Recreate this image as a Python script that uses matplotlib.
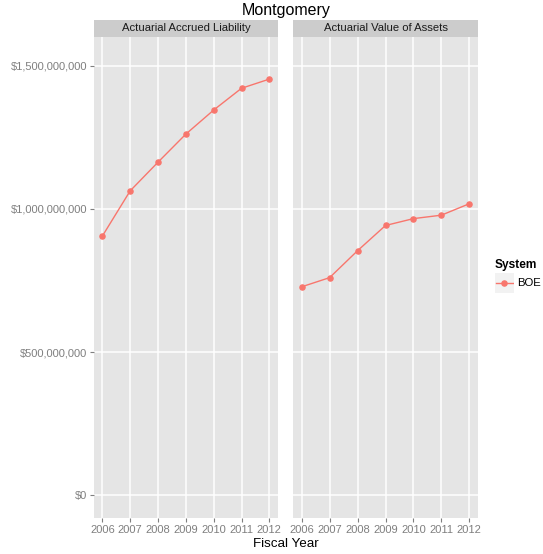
import matplotlib
matplotlib.use("Agg")
import matplotlib.pyplot as plt
from matplotlib.ticker import FuncFormatter
from matplotlib.lines import Line2D

plt.rcParams['font.family'] = ['Liberation Sans', 'DejaVu Sans']

# data
years = [2006, 2007, 2008, 2009, 2010, 2011, 2012]
liability = [905e6, 1063e6, 1163e6, 1261e6, 1345e6, 1421e6, 1453e6]
assets = [728e6, 760e6, 854e6, 942e6, 966e6, 978e6, 1018e6]
panel_titles = ['Actuarial Accrued Liability', 'Actuarial Value of Assets']
series_name = 'BOE'

line_color = '#F8766D'
W, H = 543, 554

fig = plt.figure(figsize=(W / 100, H / 100), dpi=100)

def box(x0, y0, x1, y1):
    # pixel box -> figure fraction
    return [x0 / W, 1 - y1 / H, (x1 - x0) / W, (y1 - y0) / H]

money = FuncFormatter(lambda v, p: '${:,.0f}'.format(v))

panels = [(94, 277.7, liability), (293.3, 477.7, assets)]
for i, (x0, x1, vals) in enumerate(panels):
    ax = fig.add_axes(box(x0, 36.7, x1, 517.7))
    ax.set_facecolor('#E5E5E5')
    for s in ax.spines.values():
        s.set_visible(False)
    ax.grid(True, color='white', linewidth=1.1)
    ax.set_axisbelow(True)
    ax.plot(years, vals, color=line_color, linewidth=1.0, marker='o', markersize=3.7)
    ax.set_xlim(2005.7, 2012.3)
    ax.set_ylim(-78e6, 1601e6)
    ax.set_xticks(years)
    ax.set_yticks([0, 500e6, 1000e6, 1500e6])
    ax.tick_params(colors='#7F7F7F', labelcolor='#7F7F7F', labelsize=8,
                   length=3, width=0.8, pad=2)
    if i == 0:
        ax.yaxis.set_major_formatter(money)
    else:
        ax.tick_params(axis='y', left=False, labelleft=False)

    # facet strip
    sax = fig.add_axes(box(x0, 20, x1, 36.7))
    sax.set_facecolor('#CCCCCC')
    sax.set_xticks([])
    sax.set_yticks([])
    for s in sax.spines.values():
        s.set_visible(False)
    sax.text(0.5, 0.5, panel_titles[i], ha='center', va='center',
             fontsize=8.1, color='#1A1A1A', transform=sax.transAxes)

fig.text(286 / W, 1 - 11 / H, 'Montgomery', ha='center', va='center', fontsize=11.5)
fig.text(286 / W, 1 - 544 / H, 'Fiscal Year', ha='center', va='center', fontsize=9.6)

# legend
fig.text(495 / W, 1 - 265 / H, 'System', ha='left', va='center',
         fontsize=8.6, fontweight='bold')
kax = fig.add_axes(box(495, 273, 513.5, 292.5))
kax.set_facecolor('#F2F2F2')
kax.set_xticks([])
kax.set_yticks([])
for s in kax.spines.values():
    s.set_visible(False)
kax.set_xlim(0, 1)
kax.set_ylim(0, 1)
kax.add_line(Line2D([0.05, 0.95], [0.5, 0.5], color=line_color, linewidth=1.0))
kax.plot([0.5], [0.5], 'o', color=line_color, markersize=3.7)
fig.text(517 / W, 1 - 283 / H, series_name, ha='left', va='center', fontsize=8.2)

fig.savefig('out.png', dpi=100)
